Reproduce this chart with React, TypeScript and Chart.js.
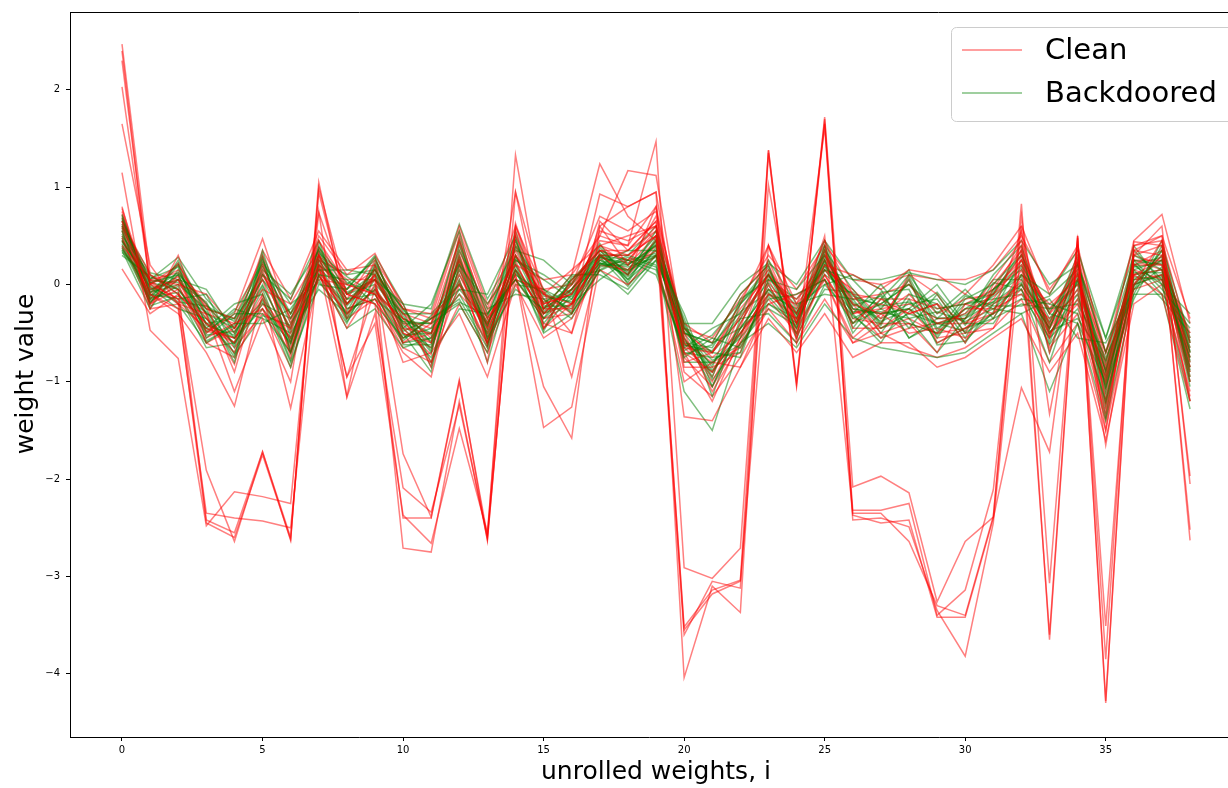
import React, { useEffect, useRef } from "react";
import { Chart, registerables } from "chart.js";

Chart.register(...registerables);

// x positions (unrolled weight index)
const steps = [0, 1, 2, 3, 4, 5, 6, 7, 8, 9, 10, 11, 12, 13, 14, 15, 16, 17, 18, 19, 20, 21, 22, 23, 24, 25, 26, 27, 28, 29, 30, 31, 32, 33, 34, 35, 36, 37, 38];
const xTickValues = [0, 5, 10, 15, 20, 25, 30, 35];
const yTickValues = [-4, -3, -2, -1, 0, 1, 2];
const legendLabels = ["Clean", "Backdoored"];
const xTitle = "unrolled weights, i";
const yTitle = "weight value";

// ---- Clean (red) runs ----
const clean01 = [2.47,0.10,-0.10,-0.40,-0.60,0.20,-0.50,0.30,-0.20,0.10,-0.50,-0.60,0.30,-0.40,0.30,-0.20,-0.10,0.40,0.30,0.50,-0.70,-0.90,-0.40,0.10,-0.30,0.30,-0.20,-0.30,-0.10,-0.40,-0.30,-0.10,0.20,-0.40,0.10,-1.00,0.20,0.20,-0.80];
const clean02 = [2.40,-0.05,0.05,-0.55,-0.40,-0.25,-0.70,0.45,0.00,-0.10,-0.35,-0.80,0.00,-0.60,0.10,-1.05,-1.58,0.60,0.20,0.70,-0.50,-1.10,-0.60,0.00,-0.55,0.10,-0.40,-0.15,-0.30,-0.20,-0.60,0.00,0.35,-0.50,-0.20,-1.30,0.00,0.45,-0.60];
const clean03 = [2.03,0.00,0.15,-0.20,-0.90,0.10,-0.30,0.20,-1.15,0.20,-0.60,-0.40,0.45,-0.30,0.50,-0.10,-0.30,0.93,0.80,0.95,-0.80,-0.70,-0.20,0.40,-0.20,0.45,-0.10,-0.50,-0.40,-0.70,-0.20,-0.30,0.55,-0.70,0.25,-1.50,0.35,0.30,-1.00];
const clean04 = [1.65,0.20,-0.20,-0.30,-1.10,-0.35,-1.00,0.74,-0.10,-0.20,-0.70,-0.95,0.20,-0.80,0.95,-0.45,-0.20,0.30,0.10,0.80,-1.36,-1.40,-0.85,-0.20,-0.10,0.05,-0.60,-0.40,0.10,-0.10,-0.50,-0.45,0.10,-0.20,0.05,-0.70,0.10,-0.10,-1.20];
const clean05 = [0.80,-0.25,0.30,-0.50,-0.30,0.47,-0.40,0.50,0.10,0.32,-0.25,-0.30,0.60,-0.20,0.20,0.05,0.10,1.24,0.70,0.45,-0.40,-0.60,-0.10,0.20,-0.40,0.20,0.10,-0.05,0.15,0.10,-0.10,0.20,0.60,-0.10,0.40,-0.80,0.45,0.72,-0.40];
const clean06 = [0.72,-0.10,-0.30,-0.70,-1.25,-0.10,-1.27,0.10,-0.45,0.00,-0.80,-0.70,-0.30,-0.95,0.00,-0.55,-0.35,0.15,0.00,0.30,-1.00,-0.80,-0.85,-0.35,-0.70,-0.30,-0.75,-0.60,-0.60,-0.85,-0.75,-0.55,-0.35,-0.90,-0.50,-1.60,-0.20,0.00,-1.10];
const clean07 = [0.45,0.05,0.00,-0.10,-0.45,-0.05,-0.20,0.30,0.05,0.05,-0.45,-0.50,0.10,-0.50,0.35,-0.25,0.10,0.50,1.17,1.12,-0.60,-0.95,-0.30,0.15,-0.25,0.35,-0.30,-0.20,-0.30,-0.20,-0.40,-0.15,0.25,-0.30,0.00,-0.95,0.30,0.20,-0.50];
const clean08 = [0.16,-0.30,-0.10,-0.40,-0.70,0.15,-0.60,0.25,-0.20,0.15,-0.30,-0.55,0.25,-0.60,0.40,-0.15,-0.50,0.35,0.25,0.60,-0.45,-0.75,-0.50,-0.10,-0.35,0.15,-0.05,-0.35,0.05,-0.60,-0.45,-0.20,0.00,-0.55,0.15,-1.20,0.05,0.10,-0.90];
const clean09 = [0.60,0.00,0.20,-0.25,-0.35,0.30,-0.35,0.15,-0.35,0.25,-0.20,-0.85,0.50,-0.35,0.15,-0.30,-0.05,0.45,0.40,0.80,-0.55,-1.00,-0.45,0.40,-0.50,0.40,-0.30,-0.25,-0.20,-0.35,-0.35,0.05,0.45,-0.45,0.30,-0.85,0.20,0.35,-0.75];
const clean10 = [0.55,-0.15,0.05,-0.45,-0.55,-0.20,-0.55,0.05,0.00,-0.10,-0.55,-0.35,0.00,-0.45,0.10,-1.47,-1.26,0.20,0.15,0.45,-0.70,-1.20,-0.55,-0.05,-0.15,0.25,-0.25,-0.45,-0.35,-0.50,-0.25,-0.25,-0.10,-0.35,-0.10,-1.10,0.15,0.05,-0.70];
const clean11 = [0.65,0.10,-0.05,-0.35,-0.65,-0.30,-0.45,0.35,-0.95,-0.05,-0.40,-0.60,0.15,-0.55,0.25,-0.40,-0.50,0.65,0.35,0.65,-0.85,-0.85,-0.70,0.05,-0.45,0.05,-0.55,-0.30,-0.50,-0.45,-0.55,-0.35,0.15,-0.65,-0.30,-1.35,0.10,0.15,-1.00];
const clean12 = [0.50,-0.20,0.10,-0.60,-0.45,0.05,-0.70,0.20,-0.05,0.15,-0.35,-0.45,0.35,-0.35,0.05,-0.05,-0.95,0.30,0.10,0.40,-0.65,-0.70,-0.25,0.10,-0.30,0.20,-0.15,-0.10,0.00,-0.30,-0.15,-0.10,0.30,-0.30,0.20,-0.90,0.25,0.25,-0.55];
const clean13 = [0.58,-0.12,0.22,-0.32,-0.82,0.25,-0.75,0.38,-0.15,0.28,-0.45,-0.72,0.42,-0.62,0.45,-0.35,-0.20,0.55,0.45,0.60,-0.75,-1.05,-0.55,0.25,-0.40,0.35,-0.45,-0.45,-0.25,-0.55,-0.50,-0.05,0.40,-0.55,0.25,-1.20,0.30,0.40,-0.85];
const clean14 = [0.68,0.02,-0.15,-0.48,-0.55,-0.15,-0.55,0.15,-0.25,-0.15,-0.60,-0.50,-0.10,-0.40,0.20,-0.25,-0.05,0.35,0.25,0.55,-0.60,-0.80,-0.65,-0.10,-0.20,0.15,-0.20,-0.55,-0.45,-0.40,-0.40,-0.30,0.05,-0.45,-0.05,-1.40,0.10,0.25,-0.95];
const clean15 = [0.38,-0.08,0.08,-0.30,-0.40,0.10,-0.45,0.45,-0.10,0.05,-0.30,-0.40,0.25,-0.45,0.30,-0.10,0.15,0.40,0.20,0.50,-0.50,-0.70,-0.35,0.10,-0.35,0.25,-0.10,-0.15,-0.15,-0.25,-0.20,-0.05,0.25,-0.25,0.10,-1.05,0.25,0.15,-0.65];
const clean16 = [0.75,-0.18,0.00,-0.60,-0.75,-0.25,-0.85,0.20,-0.35,-0.15,-0.65,-0.80,-0.20,-0.70,0.05,-0.35,-0.30,0.25,0.35,0.55,-0.90,-1.15,-0.75,-0.25,-0.60,-0.15,-0.60,-0.50,-0.65,-0.75,-0.65,-0.45,-0.15,-0.80,-0.40,-1.50,-0.05,0.05,-1.15];
const clean17 = [0.62,0.05,0.12,-0.22,-0.50,0.35,-0.15,0.55,0.15,0.20,-0.25,-0.35,0.55,-0.25,0.60,-0.05,0.00,0.70,0.55,0.75,-0.45,-0.55,-0.15,0.30,-0.05,0.40,0.05,0.00,0.10,0.05,0.05,0.15,0.50,-0.05,0.35,-0.70,0.40,0.50,-0.35];
const clean18 = [0.48,-0.25,-0.20,-0.45,-0.60,-0.10,-0.65,0.10,-0.30,-0.05,-0.50,-0.65,0.05,-0.65,0.15,-0.30,-0.20,0.30,0.15,0.35,-0.65,-0.90,-0.50,-0.15,-0.50,0.10,-0.35,-0.40,-0.40,-0.50,-0.45,-0.30,-0.05,-0.50,-0.15,-1.25,0.00,0.10,-0.85];
const cleanOut1 = [2.30,0.00,-0.15,-1.91,-2.64,-1.72,-2.63,1.05,-0.30,0.10,-1.74,-2.39,-0.98,-2.63,0.63,-0.20,-0.10,0.50,0.40,1.47,-2.91,-3.02,-2.71,1.38,-1.03,1.72,-2.08,-1.97,-2.14,-3.26,-2.64,-2.39,0.83,-3.07,0.50,-4.30,0.40,0.45,-2.63];
const cleanOut2 = [1.15,-0.47,-0.76,-2.48,-2.13,-2.18,-2.25,0.75,-1.16,-0.30,-2.09,-2.34,-1.24,-2.60,1.33,-0.30,0.00,0.40,0.50,0.60,-3.52,-3.14,-3.04,1.38,-1.00,1.65,-2.32,-2.32,-2.25,-3.40,-3.14,-2.11,0.60,-3.65,0.48,-3.85,0.44,0.40,-2.52];
const cleanOut3 = [0.78,-0.10,-0.25,-2.35,-2.40,-2.43,-2.50,0.30,-0.95,-0.40,-2.37,-2.66,-1.48,-2.55,0.95,-0.10,-0.20,0.30,0.30,0.50,-3.60,-3.05,-3.12,1.02,-0.60,1.62,-2.37,-2.45,-2.42,-3.42,-3.42,-2.40,-1.06,-1.72,0.45,-3.51,0.30,0.60,-2.05];
const cleanOut4 = [0.65,-0.20,-0.05,-2.42,-2.55,-1.72,-2.60,0.95,-0.20,0.05,-2.71,-2.75,-1.20,-2.62,0.60,-0.25,-0.25,0.60,0.80,0.95,-4.04,-3.10,-3.37,1.35,-1.05,1.70,-2.42,-2.40,-2.49,-3.35,-3.82,-2.45,0.40,-3.60,0.50,-4.28,0.35,0.50,-1.97];
const cleanOut5 = [0.40,0.05,-0.20,-2.45,-2.60,-1.75,-2.62,1.00,-0.10,-0.20,-2.40,-2.40,-1.00,-2.58,0.55,-0.45,0.05,0.35,0.35,0.65,-3.55,-3.18,-3.05,0.40,-0.40,0.50,-2.35,-2.35,-2.64,-3.30,-3.40,-2.38,0.70,-1.33,0.20,-1.65,0.00,0.30,-1.20];

// ---- Backdoored (green) runs ----
const back01 = [0.62,0.02,0.10,-0.20,-0.55,0.25,-0.30,0.35,-0.20,0.15,-0.32,-0.70,0.40,-0.30,0.05,-0.35,0.05,0.30,0.05,0.45,-0.40,-0.95,-0.20,0.10,-0.45,0.35,-0.05,-0.40,0.05,-0.55,-0.15,0.00,0.30,-0.60,0.20,-0.70,0.25,-0.05,-0.40];
const back02 = [0.40,-0.15,0.20,-0.55,-0.30,-0.30,-0.70,0.10,0.05,-0.20,-0.55,-0.35,-0.15,-0.65,0.40,-0.05,-0.30,0.15,0.30,0.20,-0.75,-0.55,-0.65,-0.15,-0.10,0.05,-0.40,-0.10,-0.45,-0.10,-0.50,-0.30,-0.15,-0.20,-0.30,-1.20,0.00,0.30,-1.00];
const back03 = [0.72,-0.10,-0.15,-0.10,-0.65,0.10,-0.15,0.45,-0.35,0.05,-0.20,-0.80,0.20,-0.20,0.25,0.05,-0.15,0.38,0.10,0.55,-0.50,-0.60,-0.10,0.20,-0.55,0.15,0.05,-0.25,0.10,-0.30,-0.05,-0.35,0.10,-0.10,0.35,-0.55,0.30,0.15,-0.85];
const back04 = [0.30,0.08,-0.05,-0.45,-0.20,-0.10,-0.80,0.00,-0.05,0.28,-0.45,-0.20,0.55,-0.55,-0.05,-0.25,0.10,0.10,-0.05,0.30,-0.30,-1.05,-0.45,-0.05,-0.30,0.45,-0.30,0.00,-0.35,-0.70,-0.35,0.10,0.40,-0.50,-0.10,-1.05,-0.15,0.40,-0.55];
const back05 = [0.55,-0.20,0.25,-0.30,-0.75,0.35,-0.55,0.25,-0.15,-0.10,-0.60,-0.55,-0.05,-0.10,0.50,-0.40,-0.05,0.30,0.25,0.10,-0.65,-0.45,-0.30,0.25,-0.20,-0.10,-0.15,-0.50,-0.10,-0.20,-0.60,-0.20,-0.05,-0.80,0.05,-0.80,0.20,0.00,-1.20];
const back06 = [0.45,0.00,-0.20,-0.60,-0.40,-0.40,-0.25,0.15,0.15,0.10,-0.25,-0.60,0.15,-0.40,0.10,-0.10,-0.25,0.20,0.20,0.40,-0.80,-0.80,-0.55,-0.20,-0.40,0.25,-0.50,-0.15,0.15,-0.45,-0.25,-0.05,0.20,-0.30,-0.40,-1.00,0.05,0.25,-0.60];
const back07 = [0.68,-0.05,0.05,-0.05,-0.50,0.00,-0.60,0.40,-0.25,-0.15,-0.38,-0.40,-0.20,-0.70,0.30,-0.30,0.00,0.42,0.00,0.25,-0.45,-0.70,-0.75,0.05,-0.05,0.30,-0.25,-0.30,-0.25,0.00,-0.40,-0.40,0.00,-0.45,0.25,-1.35,0.35,0.05,-0.75];
const back08 = [0.35,-0.25,0.15,-0.40,-0.35,0.20,-0.40,0.05,-0.40,0.20,-0.50,-0.90,0.35,-0.25,-0.10,-0.15,-0.35,0.20,0.35,0.35,-0.35,-1.15,-0.35,-0.30,-0.60,0.00,0.10,-0.05,-0.55,-0.35,-0.10,-0.25,-0.30,-0.15,-0.55,-0.60,-0.05,0.35,-0.95];
const back09 = [0.50,0.10,-0.10,-0.65,-0.60,-0.20,-0.35,0.30,-0.10,0.00,-0.30,-0.30,0.00,-0.50,0.15,-0.45,-0.10,0.25,0.15,0.50,-0.60,-0.65,-0.20,0.15,-0.35,0.40,-0.35,-0.20,0.00,-0.25,-0.20,-0.10,0.35,-0.70,0.10,-0.90,0.15,-0.15,-0.50];
const back10 = [0.60,-0.08,0.00,-0.25,-0.80,0.30,-0.70,0.20,0.00,0.25,-0.42,-0.65,0.25,-0.35,0.45,-0.20,0.05,0.35,0.05,0.30,-0.55,-0.90,-0.50,-0.10,-0.25,0.10,-0.10,-0.45,-0.30,-0.40,-0.30,0.05,0.05,-0.40,0.30,-1.10,0.25,0.20,-0.70];
const back11 = [0.42,-0.12,0.10,-0.50,-0.25,-0.35,-0.50,-0.05,-0.30,-0.05,-0.55,-0.45,-0.10,-0.60,0.00,-0.05,-0.20,0.05,0.25,0.15,-0.70,-0.75,-0.70,0.00,-0.50,0.20,-0.30,-0.60,-0.15,-0.60,-0.45,-0.35,-0.20,-0.25,-0.20,-0.75,-0.10,0.45,-0.80];
const back12 = [0.65,0.05,0.28,-0.15,-0.45,0.15,-0.10,0.35,-0.05,0.30,-0.20,-0.25,0.62,-0.15,0.35,0.25,0.00,0.30,0.30,0.60,-0.40,-0.40,0.00,0.22,0.00,0.45,0.05,0.05,0.12,0.05,0.00,0.15,0.45,0.00,0.20,-0.55,0.40,0.00,-0.30];
const back13 = [0.48,-0.03,-0.25,-0.35,-0.70,-0.15,-0.85,0.10,-0.45,-0.25,-0.65,-0.55,0.05,-0.80,0.20,-0.50,-0.30,0.15,-0.10,0.25,-1.10,-1.50,-0.60,-0.40,-0.65,-0.20,-0.55,-0.65,-0.70,-0.75,-0.70,-0.50,-0.30,-1.10,-0.40,-1.40,-0.10,-0.10,-1.28];
const back14 = [0.38,-0.18,0.05,-0.30,-0.45,0.05,-0.45,0.25,0.10,0.15,-0.35,-0.50,0.45,-0.45,0.55,-0.25,-0.05,0.28,0.20,0.40,-0.45,-0.85,-0.15,0.05,-0.15,0.15,-0.20,-0.35,-0.20,-0.15,-0.55,-0.05,0.15,-0.35,0.05,-0.85,0.15,0.25,-0.65];
const back15 = [0.58,0.02,-0.05,-0.40,-0.55,-0.25,-0.60,0.30,-0.15,0.05,-0.45,-0.75,-0.25,-0.30,0.05,-0.30,-0.15,0.22,0.10,0.45,-0.50,-0.60,-0.45,-0.20,-0.35,0.25,-0.40,-0.25,-0.40,-0.50,-0.20,-0.15,-0.10,-0.55,-0.25,-0.95,0.00,0.10,-0.90];
const back16 = [0.52,-0.06,0.12,-0.25,-0.35,0.05,-0.30,0.12,-0.20,0.10,-0.40,-0.40,0.20,-0.55,0.25,0.10,-0.10,0.28,0.22,0.30,-0.62,-0.70,-0.35,0.10,-0.30,0.30,-0.15,-0.20,0.00,-0.35,-0.35,-0.10,0.10,-0.25,0.00,-1.00,0.10,0.15,-0.60];
const back17 = [0.70,-0.22,-0.12,-0.28,-0.62,-0.05,-0.78,0.32,0.08,-0.10,-0.58,-0.32,-0.05,-0.38,0.05,-0.08,-0.28,0.32,0.02,0.48,-0.42,-0.98,-0.60,-0.25,-0.42,0.38,-0.45,-0.08,-0.05,-0.62,-0.58,-0.28,0.25,-0.48,-0.35,-0.78,-0.05,0.18,-1.05];
const back18 = [0.33,0.06,0.18,-0.48,-0.28,0.22,-0.20,0.02,-0.28,0.22,-0.28,-0.85,0.30,-0.62,0.48,-0.48,0.08,0.14,0.28,0.18,-0.68,-0.52,-0.18,0.18,-0.52,-0.05,-0.08,-0.42,0.08,-0.48,-0.12,-0.22,-0.22,-0.12,0.15,-1.25,0.22,-0.10,-0.45];
const back19 = [0.56,-0.14,-0.08,-0.58,-0.42,0.28,-0.68,0.22,-0.32,0.18,-0.62,-0.62,0.10,-0.42,0.30,-0.12,-0.18,0.18,0.25,0.32,-0.50,-0.88,-0.52,0.08,-0.22,0.00,-0.32,-0.55,-0.28,-0.08,-0.42,0.02,-0.05,-0.62,-0.15,-0.88,0.20,0.28,-0.88];
const back20 = [0.44,0.04,0.02,-0.18,-0.72,-0.32,-0.42,0.38,0.02,-0.08,-0.35,-0.52,0.48,-0.58,0.12,-0.28,0.02,0.35,0.12,0.42,-0.72,-0.62,-0.28,-0.08,-0.40,0.28,-0.22,-0.12,-0.55,-0.40,-0.48,-0.08,0.30,-0.28,0.12,-1.15,-0.02,0.35,-0.70];
const back21 = [0.66,-0.09,0.22,-0.42,-0.52,-0.02,-0.58,0.08,-0.22,0.08,-0.48,-0.35,-0.18,-0.32,0.38,-0.22,-0.22,0.28,-0.02,0.38,-0.55,-1.05,-0.40,0.12,-0.28,0.05,-0.28,-0.28,-0.35,-0.28,-0.38,-0.25,0.00,-0.45,0.22,-0.70,0.08,0.05,-0.78];
const back22 = [0.36,-0.02,-0.18,-0.22,-0.38,0.12,-0.48,0.28,-0.10,0.12,-0.25,-0.68,0.28,-0.48,0.22,-0.35,-0.08,0.22,0.18,0.28,-0.48,-0.78,-0.62,-0.12,-0.45,0.32,-0.18,-0.38,-0.25,-0.52,-0.25,-0.18,0.18,-0.52,0.05,-1.05,0.18,0.22,-0.58];
const back23 = [0.60,0.12,0.05,-0.35,-0.60,0.18,-0.35,0.18,-0.38,-0.02,-0.52,-0.50,0.22,-0.52,0.15,-0.18,-0.05,0.25,0.08,0.35,-0.62,-0.68,-0.32,0.02,-0.32,0.18,-0.12,-0.22,-0.18,-0.35,-0.32,-0.12,0.08,-0.42,-0.05,-0.95,0.12,0.12,-0.68];
const back24 = [0.46,-0.16,-0.02,-0.52,-0.48,-0.18,-0.62,0.16,-0.08,0.05,-0.38,-0.58,0.02,-0.42,0.28,-0.15,-0.12,0.22,0.14,0.30,-0.58,-0.82,-0.45,-0.05,-0.38,0.22,-0.25,-0.30,-0.25,-0.40,-0.35,-0.18,0.02,-0.38,0.02,-0.90,0.05,0.08,-0.75];

const cleanOutliers = [cleanOut1, cleanOut2, cleanOut3, cleanOut4, cleanOut5];
const cleanRuns = [clean01, clean02, clean03, clean04, clean05, clean06, clean07, clean08, clean09, clean10, clean11, clean12, clean13, clean14, clean15, clean16, clean17, clean18];
const backdooredRuns = [back01, back02, back03, back04, back05, back06, back07, back08, back09, back10, back11, back12, back13, back14, back15, back16, back17, back18, back19, back20, back21, back22, back23, back24];

const RED = "rgba(255,0,0,0.5)";
const GREEN = "rgba(0,128,0,0.5)";
const FONT = "'DejaVu Sans', 'Liberation Sans', sans-serif";

const fmt = (v: any) => String(v).replace("-", "\u2212");

const decorPlugin = {
  id: "decor",
  afterDraw(chart: any) {
    const { ctx, chartArea: a } = chart;
    ctx.save();
    // top spine
    ctx.strokeStyle = "#000";
    ctx.lineWidth = 1;
    ctx.beginPath();
    ctx.moveTo(a.left, Math.round(a.top) + 0.5);
    ctx.lineTo(a.right, Math.round(a.top) + 0.5);
    ctx.stroke();

    // axis titles
    ctx.fillStyle = "#000";
    ctx.font = `25px ${FONT}`;
    ctx.textAlign = "center";
    ctx.textBaseline = "alphabetic";
    ctx.fillText(xTitle, 656, 779);
    ctx.save();
    ctx.translate(33, 374);
    ctx.rotate(-Math.PI / 2);
    ctx.fillText(yTitle, 0, 0);
    ctx.restore();

    // legend box
    const bx = 951.5, by = 27.5, bw = 320, bh = 94, r = 5;
    ctx.beginPath();
    ctx.moveTo(bx + r, by);
    ctx.arcTo(bx + bw, by, bx + bw, by + bh, r);
    ctx.arcTo(bx + bw, by + bh, bx, by + bh, r);
    ctx.arcTo(bx, by + bh, bx, by, r);
    ctx.arcTo(bx, by, bx + bw, by, r);
    ctx.closePath();
    ctx.fillStyle = "rgba(255,255,255,0.8)";
    ctx.fill();
    ctx.strokeStyle = "#cccccc";
    ctx.stroke();

    const rows = [
      { label: legendLabels[0], color: RED, y: 50 },
      { label: legendLabels[1], color: GREEN, y: 93 },
    ];
    ctx.font = `29px ${FONT}`;
    ctx.textAlign = "left";
    ctx.textBaseline = "middle";
    for (const row of rows) {
      ctx.strokeStyle = row.color;
      ctx.lineWidth = 1.5;
      ctx.beginPath();
      ctx.moveTo(962, row.y);
      ctx.lineTo(1022, row.y);
      ctx.stroke();
      ctx.fillStyle = "#000";
      ctx.fillText(row.label, 1045, row.y + 1);
    }
    ctx.restore();
  },
};

export default function App() {
  const ref = useRef<HTMLCanvasElement>(null);

  useEffect(() => {
    const toPts = (arr: number[]) => arr.map((y, i) => ({ x: steps[i], y }));
    const mk = (arr: number[], color: string, label: string) => ({
      label,
      data: toPts(arr),
      borderColor: color,
      backgroundColor: color,
      borderWidth: 1.5,
      pointRadius: 0,
      tension: 0,
      fill: false,
    });

    const datasets: any[] = [];
    cleanOutliers.forEach((arr) => datasets.push(mk(arr, RED, legendLabels[0])));
    const n = Math.max(cleanRuns.length, backdooredRuns.length);
    for (let k = 0; k < n; k++) {
      if (backdooredRuns[k]) datasets.push(mk(backdooredRuns[k], GREEN, legendLabels[1]));
      if (cleanRuns[k]) datasets.push(mk(cleanRuns[k], RED, legendLabels[0]));
    }

    const tickFont = { size: 10, family: FONT };
    const chart = new Chart(ref.current as HTMLCanvasElement, {
      type: "line",
      data: { datasets },
      options: {
        animation: false,
        responsive: false,
        devicePixelRatio: 1,
        layout: { padding: { top: 11, right: 0, left: 0, bottom: 0 } },
        plugins: { legend: { display: false }, tooltip: { enabled: false } },
        scales: {
          x: {
            type: "linear",
            min: -1.85,
            max: 39.35,
            afterBuildTicks: (s: any) => {
              s.ticks = xTickValues.map((v) => ({ value: v }));
            },
            afterFit: (s: any) => {
              s.height = 51;
            },
            grid: { drawOnChartArea: false, drawTicks: true, tickLength: 4, color: "#000" },
            border: { display: true, color: "#000", width: 1 },
            ticks: { color: "#000", font: tickFont, padding: 3, maxRotation: 0, autoSkip: false, callback: fmt },
          },
          y: {
            type: "linear",
            min: -4.65,
            max: 2.8,
            afterBuildTicks: (s: any) => {
              s.ticks = yTickValues.map((v) => ({ value: v }));
            },
            afterFit: (s: any) => {
              s.width = 70;
            },
            grid: { drawOnChartArea: false, drawTicks: true, tickLength: 4, color: "#000" },
            border: { display: true, color: "#000", width: 1 },
            ticks: { color: "#000", font: tickFont, padding: 6, autoSkip: false, callback: fmt },
          },
        },
      } as any,
      plugins: [decorPlugin],
    });
    return () => chart.destroy();
  }, []);

  return (
    <div style={{ position: "absolute", left: 0, top: 0, width: 1228, height: 788, background: "#fff", overflow: "hidden" }}>
      <canvas ref={ref} width={1228} height={788} style={{ display: "block" }} />
    </div>
  );
}
